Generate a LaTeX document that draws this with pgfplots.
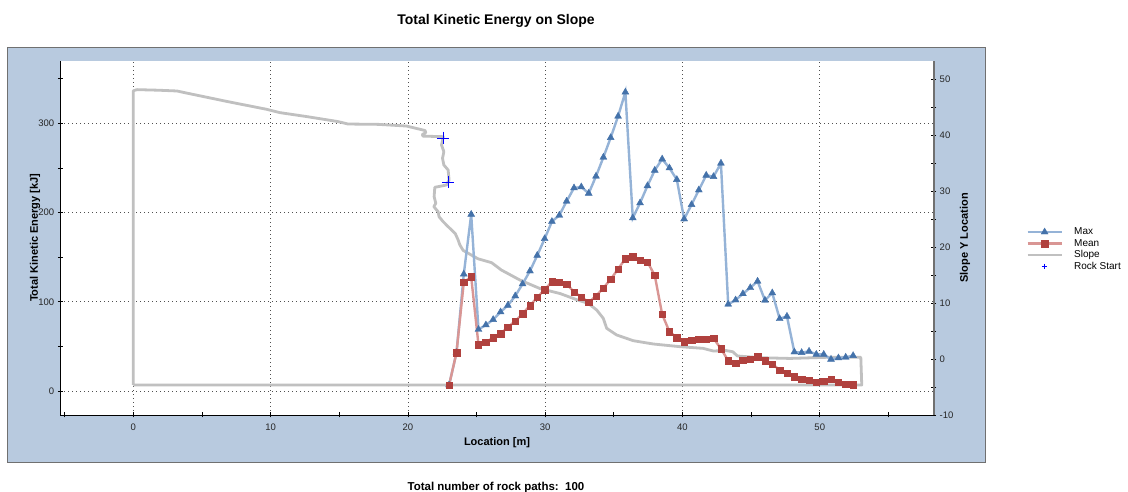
\documentclass[border=0pt]{standalone}
\usepackage{pgfplots}
\usepackage{pgfplotstable}
\pgfplotsset{compat=1.18}
\usepackage{fontspec}
\setmainfont{Liberation Sans}

\definecolor{panelblue}{HTML}{B8CADF}
\definecolor{paneledge}{HTML}{707070}
\definecolor{maxline}{HTML}{95B3D7}
\definecolor{maxmark}{HTML}{4472AA}
\definecolor{meanline}{HTML}{D99694}
\definecolor{meanmark}{HTML}{B0413E}
\definecolor{slopegray}{HTML}{C0C0C0}
\definecolor{gridgray}{HTML}{505050}

% Kinetic energy along the slope: location [m], max and mean [kJ]
\pgfplotstableread{
x     max    mean
23.00 6.7    6.7
23.54 43     43
24.07 131    121.8
24.61 198    128
25.14 69     52
25.68 74     54.6
26.21 80     59.8
26.75 88.6   64.3
27.28 96     71.4
27.82 106.5  78.5
28.35 120    86.7
28.89 134.5  95.6
29.42 152    105
29.96 170.7  113.6
30.49 190    122.5
31.03 197    121.8
31.56 212.7  120
32.10 227.6  111
32.63 228.7  105.4
33.17 221.6  99.4
33.70 240.7  106.5
34.24 262    115.5
34.77 284    125.2
35.31 308    136.8
35.84 335    148.3
36.38 194    150.6
36.91 210.8  146.9
37.45 230    144.6
37.98 247.4  129.7
38.52 260    86
39.05 250    66.5
39.59 237    59.8
40.12 192.8  55.3
40.66 208.9  57.2
41.19 225.3  58.3
41.73 241.8  58.3
42.26 240.3  59
42.80 255.3  47.5
43.33 97.2   34
43.87 102    31
44.40 109    34.7
44.94 115.8  35.5
45.47 123    38.5
46.01 101.7  34
46.54 109.9  30.3
47.08 81     23.5
47.61 83.7   19.8
48.15 43.7   16
48.68 43     13.1
49.22 44.5   12.3
49.75 41     10
50.29 41     10.8
50.82 35.5   13.1
51.36 37     10
51.89 37.8   7.8
52.43 39.6   7
}\energy

\pgfplotsset{
  frame/.style={
    scale only axis, width=873.4pt, height=354.3pt,
    at={(60.3pt,77pt)}, anchor=south west,
    xmin=-5.32, xmax=58.3,
    tick align=center, major tick length=5pt, minor tick length=5pt,
    every tick/.style={black, line width=0.7pt},
    tick label style={font=\fontsize{9.5}{11}\selectfont, text=black!85},
    label style={font=\bfseries\fontsize{11}{13}\selectfont},
  },
}

\begin{document}
\begin{tikzpicture}
\fill[white] (0,0) rectangle (1128pt,492pt);
\filldraw[fill=panelblue, draw=paneledge, line width=1pt] (7.5pt,29pt) rectangle (985pt,444.7pt);
\fill[white] (60.3pt,77pt) rectangle (933.7pt,431.3pt);

% left energy axis, location axis and grid
\begin{axis}[frame,
  ymin=-26.9, ymax=370.3,
  axis x line*=bottom, axis y line*=left,
  axis line style={black, line width=0.8pt, -},
  xtick={0,10,20,30,40,50}, xticklabels={0,10,20,30,40,50},
  minor xtick={-5,5,15,25,35,45,55},
  ytick={0,100,200,300}, yticklabels={0,100,200,300},
  minor ytick={50,150,250,350},
  xticklabel style={yshift=-3pt},
  xmajorgrids, ymajorgrids,
  grid style={gridgray, line width=0.8pt, dash pattern=on 0.8pt off 3.2pt},
  xlabel={Location [m]}, ylabel={Total Kinetic Energy [kJ]},
  xlabel style={at={(axis description cs:0.5,-0.079)}, anchor=center},
  ylabel style={at={(axis description cs:-0.029,0.5)}, anchor=center},
]
\end{axis}

% right slope axis with the slope profile and rock start points
\begin{axis}[frame,
  ymin=-10, ymax=53.27,
  axis x line=none, axis y line*=right,
  axis line style={paneledge, line width=2pt, -},
  ytick={-10,0,10,20,30,40,50}, yticklabels={-10,0,10,20,30,40,50},
  minor ytick={-5,5,15,25,35,45},
  ylabel={Slope Y Location},
  ylabel style={at={(axis description cs:1.0358,0.5)}, anchor=center},
]
\addplot[slopegray, line width=2.8pt, line join=round] coordinates {
(0,-4.64) (0,47.9) (0.27,48.1) (1.8,48.0) (3.18,47.86) (3.86,47.5)
(6.9,45.95) (9.69,44.6) (10.66,44.0) (12.6,43.3) (14.9,42.4) (15.64,41.96)
(17.83,41.9) (19.9,41.6) (21.25,40.8) (21.3,40.4) (21.05,40.1) (21.1,39.8)
(22.57,39.7) (22.45,38.21) (22.62,37.02) (22.52,35.83) (22.62,34.64)
(22.93,33.75) (23.0,31.96) (22.81,31.07) (21.96,30.66) (21.91,28.99)
(22.03,27.8) (21.89,27.2) (22.2,26.3) (22.27,25.4) (22.57,24.52)
(22.93,23.63) (23.45,22.4) (23.66,21.25) (23.78,20.4) (24.02,19.4)
(25.1,17.9) (26.1,17.2) (26.8,15.9) (28.16,14.1) (29.6,12.6) (31.07,11.7)
(32.4,10.5) (33.13,9.95) (33.75,8.75) (34.23,7.27) (34.48,5.48) (35.2,4.3)
(36.41,3.27) (37.87,2.68) (39.82,2.2) (41.5,1.9) (42.24,1.43) (43.2,1.5)
(43.66,1.3) (44.0,0.54) (45.65,0.23) (47.83,0.1) (50.5,0.3) (52.99,0.3)
(53.06,-4.64) (0,-4.64)
};
\addplot[only marks, mark=+, mark size=6.3pt, blue, line width=0.8pt]
  coordinates {(22.57,39.46) (22.93,31.6)};
\end{axis}

% max and mean energy series
\begin{axis}[frame,
  ymin=-26.9, ymax=370.3,
  axis lines=none, xtick=\empty, ytick=\empty,
  legend cell align=left,
  legend image code/.code={\draw[mark repeat=2,mark phase=2,#1]
    plot coordinates {(0pt,0pt) (17pt,0pt) (34pt,0pt)};},
  legend style={at={(axis description cs:1.1057,0.4677)}, anchor=west,
    draw=none, fill=none, inner sep=0pt, row sep=0pt, column sep=10pt,
    font=\fontsize{10}{12}\selectfont,
    nodes={inner sep=1.15pt, text height=7.3pt, text depth=1.9pt}},
]
\addplot[maxline, line width=2.4pt, mark=triangle*, mark size=4pt,
  mark options={fill=maxmark, draw=maxmark, line width=0.4pt}]
  table[x=x, y=max] {\energy};
\addplot[meanline, line width=2.4pt, mark=square*, mark size=3.2pt,
  mark options={fill=meanmark, draw=meanmark, line width=0.4pt}]
  table[x=x, y=mean] {\energy};
\addlegendimage{slopegray, line width=2.8pt}
\addlegendimage{only marks, mark=+, mark size=2.8pt, blue, line width=0.6pt}
\legend{Max, Mean, Slope, Rock Start}
\end{axis}

\node[font=\bfseries\fontsize{14}{16}\selectfont] at (496pt,471pt) {Total Kinetic Energy on Slope};
\node[font=\bfseries\fontsize{11.5}{13}\selectfont] at (496pt,4.5pt) {Total number of rock paths:\ \ 100};

\pgfresetboundingbox
\path (0,0) rectangle (1128pt,492pt);
\end{tikzpicture}
\end{document}
